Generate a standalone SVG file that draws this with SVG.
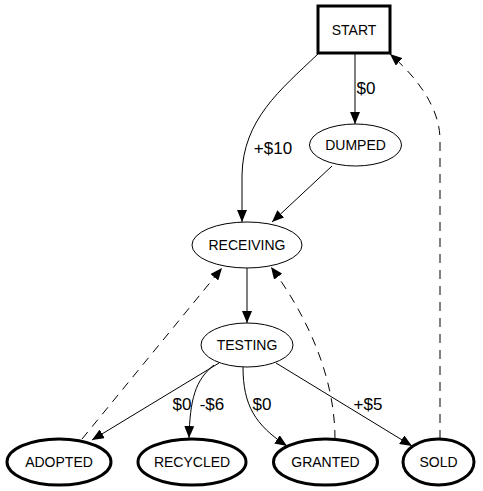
<svg xmlns="http://www.w3.org/2000/svg" width="483" height="491" viewBox="0 0 483 491">
<defs>
<marker id="ah" markerWidth="12" markerHeight="10" refX="12" refY="5" orient="auto" markerUnits="userSpaceOnUse">
<path d="M0,0 L12,5 L0,10 Z" fill="#000"/>
</marker>
<style>
.n{fill:#fff;stroke:#000;stroke-width:1}
.b{fill:#fff;stroke:#000;stroke-width:3}
.t{font-family:"Liberation Sans",Arial,sans-serif;font-size:14px;text-anchor:middle;fill:#000}
.e{fill:none;stroke:#000;stroke-width:1;marker-end:url(#ah)}
.d{stroke-dasharray:9,7}
.l{font-family:"Liberation Sans",Arial,sans-serif;font-size:17px;text-anchor:middle;fill:#000}
</style>
</defs>
<rect width="483" height="491" fill="#fff"/>
<g id="edges">
<path class="e" d="M355,53 L355,124"/>
<path class="e" d="M318,54 C280,90 243,120 242,175 L242,222"/>
<path class="e" d="M332,166 L272,222"/>
<path class="e" d="M247,268 L247,323"/>
<path class="e" d="M219,363 L92,440"/>
<path class="e" d="M214,365 C195,380 190,400 189,438"/>
<path class="e" d="M243,367 C243,405 255,425 287,446"/>
<path class="e" d="M276,363 L412,446"/>
<path class="e d" d="M335,439 C335,380 310,320 271,267"/>
<path class="e d" d="M82,439 L222,268"/>
<path class="e d" d="M440,439 L440,140 C440,110 420,80 390,54"/>
<text class="l" x="366" y="94">$0</text>
<text class="l" x="273" y="154">+$10</text>
<text class="l" x="182" y="410">$0</text>
<text class="l" x="212" y="410">-$6</text>
<text class="l" x="262" y="410">$0</text>
<text class="l" x="368" y="410">+$5</text>
</g>
<g id="START"><rect class="b" x="318" y="6" width="72" height="47"/><text class="t" x="354" y="35">START</text></g>
<g id="DUMPED"><ellipse class="n" cx="355.5" cy="145" rx="46" ry="21"/><text class="t" x="355.5" y="150">DUMPED</text></g>
<g id="RECEIVING"><ellipse class="n" cx="247" cy="245" rx="55" ry="23"/><text class="t" x="247" y="250">RECEIVING</text></g>
<g id="TESTING"><ellipse class="n" cx="247" cy="345" rx="46" ry="22"/><text class="t" x="247" y="350">TESTING</text></g>
<g id="ADOPTED"><ellipse class="b" cx="59" cy="462" rx="52" ry="23"/><text class="t" x="59" y="467">ADOPTED</text></g>
<g id="RECYCLED"><ellipse class="b" cx="192" cy="462" rx="54" ry="23"/><text class="t" x="192" y="467">RECYCLED</text></g>
<g id="GRANTED"><ellipse class="b" cx="325.5" cy="462" rx="52" ry="23"/><text class="t" x="325.5" y="467">GRANTED</text></g>
<g id="SOLD"><ellipse class="b" cx="438.5" cy="462" rx="35.5" ry="23"/><text class="t" x="438.5" y="467">SOLD</text></g>
</svg>
